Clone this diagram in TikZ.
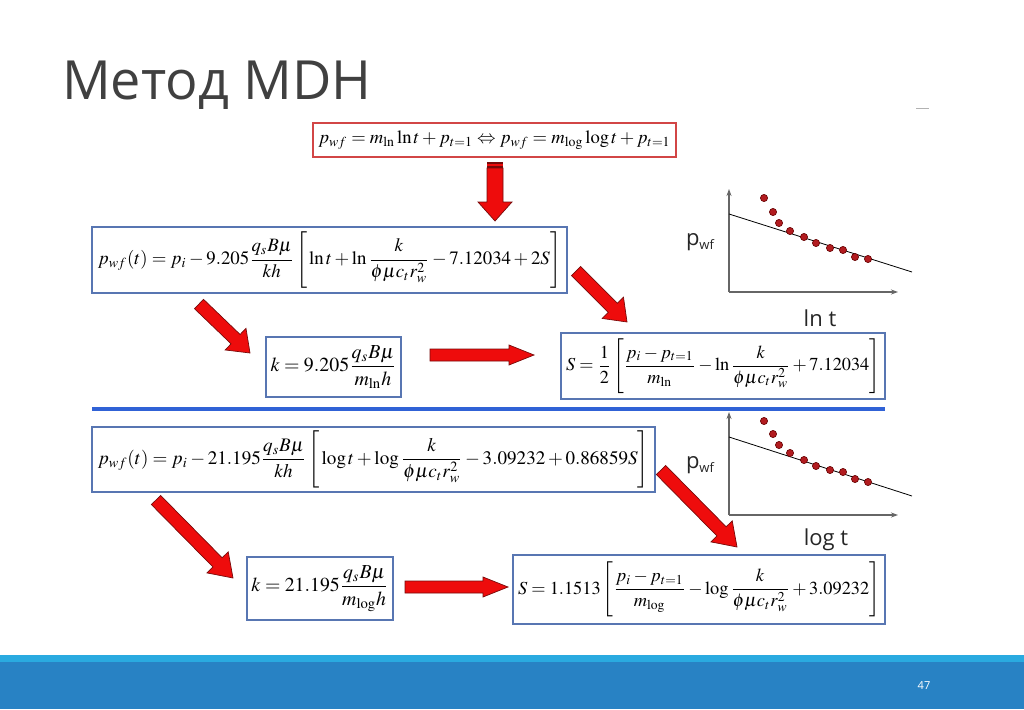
\documentclass[tikz,border=0pt]{standalone}
\usepackage{mathptmx}
\usepackage[no-math]{fontspec}
\usepackage{graphicx}
\newfontfamily\osans{Open Sans}
\usetikzlibrary{calc,arrows.meta}
\definecolor{boxblue}{RGB}{88,118,178}
\definecolor{boxred}{RGB}{210,70,70}
\definecolor{arrred}{RGB}{238,12,12}
\definecolor{arrdark}{RGB}{120,10,10}
\definecolor{sepblue}{RGB}{48,98,214}
\definecolor{dotred}{RGB}{178,28,32}
\definecolor{dotdark}{RGB}{100,0,0}
\definecolor{titlegray}{RGB}{64,64,64}
\definecolor{footblue}{RGB}{40,130,196}
\definecolor{footlight}{RGB}{42,170,224}
\tikzset{
  fbox/.style={draw=boxblue,line width=1.1pt,fill=white,inner sep=0pt,anchor=center},
  topbox/.style={draw=boxred,line width=1.3pt,fill=white,inner sep=0pt,anchor=center},
  blockarr/.style={fill=arrred,draw=arrdark,line width=0.7pt,line join=miter},
  axis/.style={draw=gray!80!black,line width=1.1pt,-{Stealth[length=7pt,width=5pt]}},
  fitline/.style={draw=black,line width=0.8pt},
  datadot/.style={fill=dotred,draw=dotdark,line width=0.6pt},
  glabel/.style={font=\osans\fontsize{22}{24}\selectfont,text=black!85,inner sep=0pt},
}
\newcommand{\blockarrow}[5]{%
  \coordinate (ba-c) at ($(#2)!#5!(#1)$);
  \filldraw[blockarr] ($(#1)!#3!90:(#2)$) -- ($(ba-c)!#3!-90:(#1)$) -- ($(ba-c)!#4!-90:(#1)$) -- (#2) -- ($(ba-c)!#4!90:(#1)$) -- ($(ba-c)!#3!90:(#1)$) -- ($(#1)!#3!-90:(#2)$) -- cycle;
}
\newcommand{\bstrut}{\rule[-12pt]{0pt}{28.5pt}}
\newcommand{\pwflabel}{p\raisebox{-0.35ex}{\fontsize{13}{14}\selectfont wf}}
\begin{document}
\begin{tikzpicture}[x=1pt,y=-1pt]
\useasboundingbox (0,0) rectangle (1024,709);
\fill[white] (0,0) rectangle (1024,709);
% title
\node[anchor=base west,inner sep=0pt,text=titlegray,font=\osans\fontsize{54}{60}\selectfont] (title) at (62,99) {Метод MDH};
\draw[gray!60,line width=0.8pt] (916,108) -- (929,108);
% footer
\fill[footlight] (0,655) rectangle (1024,663);
\fill[footblue] (0,662) rectangle (1024,709);
\node[text=white,font=\osans\fontsize{11}{12}\selectfont,inner sep=0pt] (pnum) at (924,686) {47};
% separator
\draw[sepblue,line width=4pt] (92,409) -- (885,409);
% formula boxes
\node[topbox,minimum width=363pt,minimum height=34pt] (top) at (494.5,140)
  {\resizebox{352pt}{!}{$p_{wf}=m_{\ln}\ln t+p_{t=1}\Leftrightarrow p_{wf}=m_{\log}\log t+p_{t=1}$}};
\node[fbox,minimum width=475pt,minimum height=66pt] (b1) at (329.5,260)
  {\resizebox{463pt}{!}{$\displaystyle p_{wf}(t)=p_i-9.205\frac{q_sB\mu}{kh}\left[\bstrut\ln t+\ln\frac{k}{\phi\mu c_t r_w^2}-7.12034+2S\right]$}};
\node[fbox,minimum width=135pt,minimum height=60pt] (k1) at (333.5,367)
  {\resizebox{126pt}{!}{$\displaystyle k=9.205\frac{q_sB\mu}{m_{\ln}h}$}};
\node[fbox,minimum width=324pt,minimum height=66pt] (s1) at (723,366)
  {\resizebox{314pt}{!}{$\displaystyle S=\frac{1}{2}\left[\bstrut\frac{p_i-p_{t=1}}{m_{\ln}}-\ln\frac{k}{\phi\mu c_t r_w^2}+7.12034\right]$}};
\node[fbox,minimum width=563pt,minimum height=65pt] (b2) at (373.5,459.5)
  {\resizebox{551pt}{!}{$\displaystyle p_{wf}(t)=p_i-21.195\frac{q_sB\mu}{kh}\left[\bstrut\log t+\log\frac{k}{\phi\mu c_t r_w^2}-3.09232+0.86859S\right]$}};
\node[fbox,minimum width=146pt,minimum height=63pt] (k2) at (320,588.5)
  {\resizebox{137pt}{!}{$\displaystyle k=21.195\frac{q_sB\mu}{m_{\log}h}$}};
\node[fbox,minimum width=372pt,minimum height=69pt] (s2) at (699,589.5)
  {\resizebox{362pt}{!}{$\displaystyle S=1.1513\left[\bstrut\frac{p_i-p_{t=1}}{m_{\log}}-\log\frac{k}{\phi\mu c_t r_w^2}+3.09232\right]$}};
% top down arrow with stripes
\fill[arrdark] (487,161.5) rectangle (503,164);
\fill[arrred] (487,164) rectangle (503,166);
\fill[arrdark] (487,166) rectangle (503,167.5);
\coordinate (d0) at (495,168);
\coordinate (d1) at (495,221);
\blockarrow{d0}{d1}{8pt}{17pt}{19pt}
% block arrows
\coordinate (a1s) at (199,304); \coordinate (a1e) at (250,353);
\blockarrow{a1s}{a1e}{6.5pt}{15pt}{20pt}
\coordinate (a2s) at (430,355); \coordinate (a2e) at (534,355);
\blockarrow{a2s}{a2e}{6pt}{10pt}{25pt}
\coordinate (a3s) at (576,271); \coordinate (a3e) at (627,322);
\blockarrow{a3s}{a3e}{6.5pt}{15pt}{20pt}
\coordinate (a4s) at (156,500); \coordinate (a4e) at (233,578);
\blockarrow{a4s}{a4e}{6.5pt}{15pt}{22pt}
\coordinate (a5s) at (405,587); \coordinate (a5e) at (508,587);
\blockarrow{a5s}{a5e}{6pt}{10pt}{25pt}
\coordinate (a6s) at (661,470); \coordinate (a6e) at (737,547);
\blockarrow{a6s}{a6e}{6.5pt}{15pt}{22pt}
% graph 1
\draw[axis] (729,292) -- (729,189);
\draw[axis] (729,292) -- (898,292);
\draw[fitline] (729,214) -- (912,272);
\foreach \x/\y in {764/198,773/212,779/223,790/231,804/237,816/243,830/248,843/250,855/257,868/259}
  \filldraw[datadot] (\x,\y) circle (3.6pt);
\node[glabel] (pwf1) at (700,242) {\pwflabel};
\node[glabel] (lnt) at (820,318) {ln t};
% graph 2
\draw[axis] (729,515) -- (729,412);
\draw[axis] (729,515) -- (898,515);
\draw[fitline] (729,437) -- (912,496);
\foreach \x/\y in {764/421,773/434,779/445,790/453,804/460,816/466,830/470,843/472,855/479,868/482}
  \filldraw[datadot] (\x,\y) circle (3.6pt);
\node[glabel] (pwf2) at (700,465) {\pwflabel};
\node[glabel] (logt) at (826,540) {log t};
\end{tikzpicture}
\end{document}
